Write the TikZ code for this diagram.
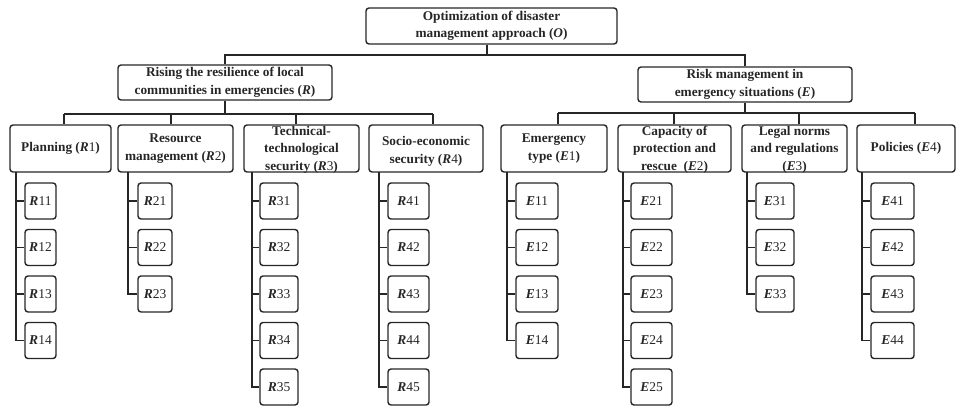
\documentclass[tikz,border=0pt]{standalone}
\usepackage{fontspec}
\setmainfont{Liberation Serif}
\definecolor{ink}{HTML}{262626}
\newcommand\vlab[2]{\textit{#1}{\mdseries #2}}
\begin{document}
\begin{tikzpicture}[x=1pt,y=-1pt,
  boxline/.style={draw=ink, line width=1.4pt, rounded corners=3pt, inner sep=0pt},
  conn/.style={draw=ink, line width=1.2pt},
  lbl/.style={font=\fontsize{13.3}{17.5}\selectfont\bfseries, align=center, inner sep=0pt, text=ink},
  leafbox/.style={boxline, minimum height=36pt, font=\fontsize{13.5}{15}\selectfont\bfseries, text=ink},
  midbox/.style={boxline, minimum height=47pt}
]
\path[use as bounding box] (0,0) rectangle (960,407);

% top level
\node[boxline, lbl, minimum width=251pt, minimum height=36pt] (O) at (491.5,26)
  {Optimization of disaster\\management approach (\textit{O})};
\node[boxline, lbl, minimum width=214pt, minimum height=35pt] (R) at (225,82.5)
  {Rising the resilience of local\\communities in emergencies (\textit{R})};
\node[boxline, lbl, minimum width=214pt, minimum height=35pt] (E) at (745,84.5)
  {Risk management in\\emergency situations (\textit{E})};

\coordinate (busO) at (487,55);
\draw[conn] (O.south -| busO) -- (busO);
\draw[conn] (R.north) -- (R.north |- busO) -- (E.north |- busO) -- (E.north);

% mid level boxes
\node[midbox, minimum width=101pt] (R1) at (60.5,148.5) {};
\node[midbox, minimum width=115pt] (R2) at (175.5,148.5) {};
\node[midbox, minimum width=115pt] (R3) at (301.5,148.5) {};
\node[midbox, minimum width=114pt] (R4) at (426,148.5) {};
\node[midbox, minimum width=106pt] (E1) at (554,148.5) {};
\node[midbox, minimum width=113pt] (E2) at (674.5,148.5) {};
\node[midbox, minimum width=105pt] (E3) at (794.5,148.5) {};
\node[midbox, minimum width=98pt] (E4) at (906,148.5) {};

\node[lbl] (R1t) at (R1) {Planning (\vlab{R}{1})};
\node[lbl] (R2t) at (R2) {Resource\\management (\vlab{R}{2})};
\node[lbl] (R3t) at ([yshift=-1pt]R3.center) {Technical-\\technological\\security (\vlab{R}{3})};
\node[lbl] (R4t) at ([yshift=-3pt]R4.center) {Socio-economic\\security (\vlab{R}{4})};
\node[lbl] (E1t) at (E1) {Emergency\\type (\vlab{E}{1})};
\node[lbl] (E2t) at ([yshift=-1pt]E2.center) {Capacity of\\protection and\\rescue~~(\vlab{E}{2})};
\node[lbl] (E3t) at ([yshift=-1pt]E3.center) {Legal norms\\and regulations\\(\vlab{E}{3})};
\node[lbl] (E4t) at (E4) {Policies (\vlab{E}{4})};

% buses to mid level
\coordinate (busR) at (225,114);
\coordinate (busE) at (745,113);
\coordinate (bR1) at (64,114);
\coordinate (bR2) at (171,114);
\coordinate (bR3) at (296,114);
\coordinate (bR4) at (433,114);
\coordinate (bE1) at (558,113);
\coordinate (bE2) at (674,113);
\coordinate (bE3) at (799,113);
\coordinate (bE4) at (915,113);
\draw[conn] (R.south) -- (busR);
\draw[conn] (E.south) -- (busE);
\draw[conn] (bR1) -- (bR4);
\draw[conn] (bE1) -- (bE4);
\foreach \b/\n in {bR1/R1,bR2/R2,bR3/R3,bR4/R4,bE1/E1,bE2/E2,bE3/E3,bE4/E4}
  \draw[conn] (\b) -- (\b |- \n.north);

% leaves
\foreach \g/\vx in {R1/16, R2/128, R3/252, R4/379, E1/507, E2/623, E3/747, E4/862}{
  \coordinate (v\g) at (\vx,172);
}
\foreach \g/\L/\k/\n/\xa/\xb in {
  R1/R/1/4/25/56, R2/R/2/3/138/172, R3/R/3/5/260/298, R4/R/4/5/388/429,
  E1/E/1/4/516/558, E2/E/2/5/631/672, E3/E/3/3/756/794, E4/E/4/4/871/914}{
  \foreach \i in {1,...,\n}{
    \pgfmathsetmacro{\yy}{201+46.5*(\i-1)}
    \pgfmathsetmacro{\ww}{\xb-\xa}
    \pgfmathsetmacro{\cx}{(\xa+\xb)/2}
    \node[leafbox, minimum width=\ww pt] (\L\k\i) at (\cx,\yy) {\vlab{\L}{\k\i}};
    \draw[conn] (v\g) |- (\L\k\i.west);
  }
}
\end{tikzpicture}
\end{document}
